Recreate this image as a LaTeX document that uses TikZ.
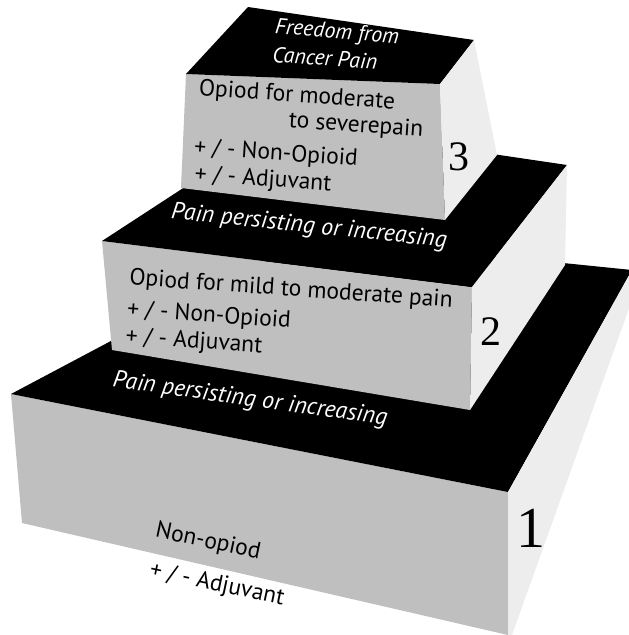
\documentclass[tikz,border=0pt]{standalone}
\usepackage{fontspec}
\setmainfont{PT Sans}
\newfontfamily\numfont{Liberation Serif}
\usetikzlibrary{positioning}

\begin{document}
\begin{tikzpicture}[x=1pt,y=-1pt]
	\tikzstyle{frontface} = [fill=gray!50]
	\tikzstyle{sideface} = [fill=gray!14]
	\tikzstyle{topface} = [fill=black]
	\tikzstyle{darktext} = [text=black, inner sep=0pt, font=\fontsize{23.5}{25}\selectfont]
	\tikzstyle{lighttext} = [text=white, inner sep=0pt, font=\fontsize{24}{26}\selectfont\itshape]
	\tikzstyle{stepnum} = [text=black, inner sep=0pt, font=\numfont]
\useasboundingbox (0,0) rectangle (629,635);
% step 1
\path[frontface] (11,394) -- (508,492) -- (508,635) -- (22,523) -- cycle;
\path[topface] (11,394) -- (508,492) -- (632,270) -- (307,237) -- cycle;
\path[sideface] (508,492) -- (632,270) -- (632,300) -- (512,635) -- (508,635) -- cycle;
% step 2
\path[frontface] (102,241) -- (472,287) -- (470,410) -- (112,350) -- cycle;
\path[topface] (102,241) -- (472,287) -- (567,165) -- (283,123) -- cycle;
\path[sideface] (472,287) -- (567,165) -- (565,265) -- (470,410) -- cycle;
% step 3
\path[frontface] (186,74) -- (440,84) -- (445,220) -- (181,188) -- cycle;
\path[topface] (186,74) -- (440,84) -- (474,40) -- (248,7) -- cycle;
\path[sideface] (440,84) -- (474,40) -- (497,155) -- (445,220) -- cycle;
% labels
\node[lighttext, rotate=-5, font=\fontsize{22}{24}\selectfont\itshape] (free) at (337,33) {Freedom from};
\node[lighttext, rotate=-4, font=\fontsize{22}{24}\selectfont\itshape] (cancer) at (325,58) {Cancer Pain};
\node[darktext, rotate=-4] (opmod) at (297,96) {Opiod for moderate};
\node[darktext, rotate=-4] (severe) at (356,126) {to severepain};
\node[darktext, rotate=-4] (non3) at (276,154) {+ / - Non-Opioid};
\node[darktext, rotate=-4] (adj3) at (263,180) {+ / - Adjuvant};
\node[stepnum, font=\numfont\fontsize{42}{42}\selectfont] (num3) at (459,157) {3};
\node[lighttext, rotate=-6] (persist2) at (309,227) {Pain persisting or increasing};
\node[darktext, rotate=-4] (opmild) at (291,290) {Opiod for mild to moderate pain};
\node[darktext, rotate=-4] (non2) at (209,316) {+ / - Non-Opioid};
\node[darktext, rotate=-4] (adj2) at (194,342) {+ / - Adjuvant};
\node[stepnum, font=\numfont\fontsize{42}{42}\selectfont] (num2) at (491,332) {2};
\node[lighttext, rotate=-8] (persist1) at (250,400) {Pain persisting or increasing};
\node[darktext, rotate=-12] (nonop) at (208,542) {Non-opiod};
\node[darktext, rotate=-12] (adj1) at (217,585) {+ / - Adjuvant};
\node[stepnum, font=\numfont\fontsize{58}{58}\selectfont] (num1) at (531,528) {1};
\end{tikzpicture}
\end{document}
